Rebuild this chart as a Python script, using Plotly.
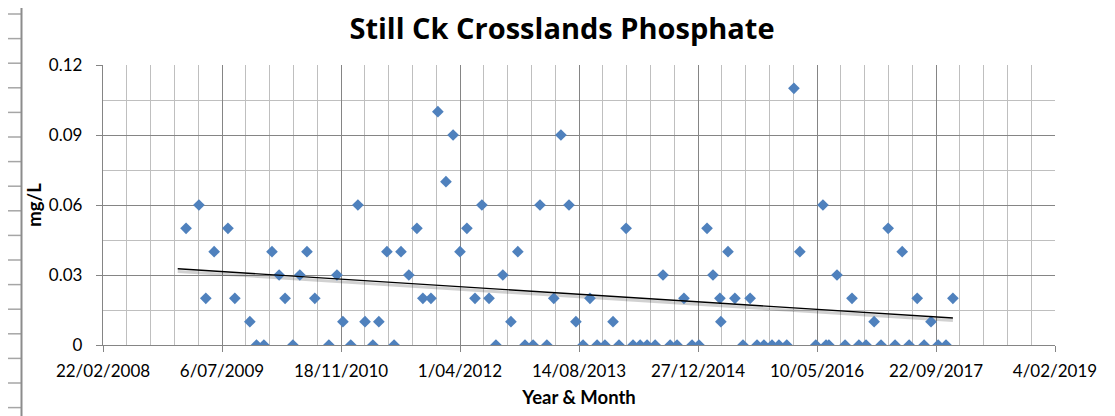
import numpy as np
import pandas as pd
import plotly.graph_objects as go

# ---------------- data ----------------
dates = [
    "2009-02-05", "2009-03-31", "2009-04-29", "2009-06-03", "2009-07-31", "2009-08-29", "2009-10-31", "2009-11-28", "2009-12-29",
    "2010-02-01", "2010-03-03", "2010-03-28", "2010-04-30", "2010-05-29", "2010-06-28", "2010-07-31", "2010-09-28", "2010-11-01", "2010-11-26", "2010-12-29",
    "2011-01-28", "2011-02-27", "2011-04-01", "2011-04-26", "2011-05-30", "2011-06-29", "2011-07-28", "2011-08-30", "2011-10-03", "2011-10-28", "2011-12-01", "2011-12-30",
    "2012-02-02", "2012-03-03", "2012-04-01", "2012-04-30", "2012-06-03", "2012-07-02", "2012-08-01", "2012-08-30", "2012-09-28", "2012-11-01", "2012-11-30", "2012-12-30",
    "2013-02-02", "2013-03-03", "2013-04-01", "2013-04-30", "2013-05-30", "2013-07-03", "2013-08-01", "2013-08-31", "2013-09-29", "2013-10-29", "2013-12-01",
    "2014-01-04", "2014-01-29", "2014-02-28", "2014-03-29", "2014-04-28", "2014-05-27", "2014-06-30", "2014-08-02", "2014-09-01", "2014-09-30", "2014-10-29", "2014-12-02", "2014-12-31",
    "2015-02-03", "2015-02-28", "2015-03-29", "2015-04-02", "2015-05-02", "2015-05-31", "2015-07-04", "2015-08-03", "2015-09-01", "2015-09-30", "2015-11-03", "2015-12-02",
    "2016-01-04", "2016-02-03", "2016-02-28", "2016-05-05", "2016-06-04", "2016-06-17", "2016-06-29", "2016-08-02", "2016-09-05", "2016-10-04", "2016-11-02", "2016-12-02",
    "2017-01-05", "2017-02-03", "2017-03-05", "2017-04-03", "2017-05-03", "2017-06-01", "2017-07-05", "2017-08-03", "2017-09-01", "2017-10-01", "2017-11-03", "2017-12-02",
]
phosphate = [
    0.05, 0.06, 0.02, 0.04, 0.05, 0.02, 0.01, 0, 0,
    0.04, 0.03, 0.02, 0, 0.03, 0.04, 0.02, 0, 0.03, 0.01, 0,
    0.06, 0.01, 0, 0.01, 0.04, 0, 0.04, 0.03, 0.05, 0.02, 0.02, 0.10,
    0.07, 0.09, 0.04, 0.05, 0.02, 0.06, 0.02, 0, 0.03, 0.01, 0.04, 0,
    0, 0.06, 0, 0.02, 0.09, 0.06, 0.01, 0, 0.02, 0, 0,
    0.01, 0, 0.05, 0, 0, 0, 0, 0.03, 0, 0, 0.02, 0, 0,
    0.05, 0.03, 0.02, 0.01, 0.04, 0.02, 0, 0.02, 0, 0, 0, 0,
    0, 0.11, 0.04, 0, 0.06, 0, 0, 0.03, 0, 0.02, 0, 0,
    0.01, 0, 0.05, 0, 0.04, 0, 0.02, 0, 0.01, 0, 0, 0.02,
]
x_range = ["2008-02-22", "2019-02-04"]
y_ticks = [0, 0.03, 0.06, 0.09, 0.12]
title = "Still Ck Crosslands Phosphate"
x_title = "Year & Month"
y_title = "mg/L"

# ---------------- linear trendline (least squares) ----------------
d = pd.to_datetime(dates)
t = np.array((d - d[0]).days, dtype=float)
slope, intercept = np.polyfit(t, phosphate, 1)
backward_days = 35
t_line = np.array([-backward_days, t[-1]])
trend_x = d[0] + pd.to_timedelta(t_line, unit="D")
trend_y = slope * t_line + intercept

DAY = 86400000
FONT = "Lato"
OFF = 8                      # page body margin
W, H = 1115 - OFF, 416 - OFF
PW, PH = 952, 280
L, T = 103 - OFF, 65 - OFF
R, B = W - L - PW, H - T - PH

def px(xp):   # page pixel -> paper x
    return (xp - OFF - L) / PW

def py(yp):   # page pixel -> paper y
    return (T + PH - (yp - OFF)) / PH

fig = go.Figure()
fig.add_trace(go.Scatter(
    x=trend_x, y=trend_y - 0.0011, mode="lines",
    line=dict(color="rgba(0,0,0,0.18)", width=3), hoverinfo="skip", showlegend=False,
))
fig.add_trace(go.Scatter(
    x=dates, y=phosphate, mode="markers",
    marker=dict(symbol="diamond", size=9, color="#4F81BD", line=dict(width=0)),
    showlegend=False,
))
fig.add_trace(go.Scatter(
    x=trend_x, y=trend_y, mode="lines",
    line=dict(color="black", width=1.4), hoverinfo="skip", showlegend=False,
))

shapes = []
# spreadsheet cell lines around the chart object
for k in range(17):
    yp = 14 + 24.6 * k
    shapes.append(dict(type="line", xref="paper", yref="paper", x0=px(0), x1=px(21), y0=py(yp), y1=py(yp),
                       line=dict(color="#A6A6A6", width=1.5), layer="below"))
for k in range(11):
    xp = 50 + 96.4 * k
    shapes.append(dict(type="line", xref="paper", yref="paper", x0=px(xp), x1=px(xp), y0=py(0), y1=py(3),
                       line=dict(color="#A6A6A6", width=1.5), layer="below"))
# chart border
shapes.append(dict(type="rect", xref="paper", yref="paper", x0=px(21.5), x1=px(1110), y0=py(430), y1=py(3),
                   line=dict(color="#8C8C8C", width=2), layer="below"))

fig.update_layout(
    width=W, height=H,
    margin=dict(l=L, r=R, t=T, b=B, autoexpand=False),
    paper_bgcolor="white", plot_bgcolor="white",
    font=dict(family=FONT, color="black"),
    title=dict(text="<b>" + title + "</b>", font=dict(family="Open Sans", size=29, color="black"),
               x=(562 - OFF) / W, xref="container", xanchor="center",
               y=1 - (29 - OFF) / H, yref="container", yanchor="middle"),
    shapes=shapes,
    showlegend=False,
)
fig.update_xaxes(
    type="date", range=x_range, tick0=x_range[0], dtick=500 * DAY, tickformat="%-d/%m/%Y",
    showgrid=True, gridcolor="#858585", gridwidth=1.3,
    minor=dict(tick0=x_range[0], dtick=100 * DAY, showgrid=True, gridcolor="#BFBFBF", gridwidth=1.3),
    ticks="outside", ticklen=6, tickcolor="#858585", tickwidth=1.3,
    showline=True, linecolor="#858585", linewidth=1.3, zeroline=False,
    tickfont=dict(family=FONT, size=17, color="black"), ticklabelstandoff=4,
    title=dict(text="<b>" + x_title + "</b>", font=dict(family=FONT, size=18.5, color="black"), standoff=11),
    automargin=False,
)
fig.update_yaxes(
    range=[0, 0.12], tickvals=y_ticks, ticktext=[f"{v:g}" for v in y_ticks],
    showgrid=True, gridcolor="#858585", gridwidth=1.3,
    minor=dict(tick0=0, dtick=0.015, showgrid=True, gridcolor="#BFBFBF", gridwidth=1.3),
    ticks="outside", ticklen=6, tickcolor="#858585", tickwidth=1.3,
    showline=True, linecolor="#858585", linewidth=1.3, zeroline=False,
    tickfont=dict(family=FONT, size=17, color="black"), ticklabelstandoff=10,
    title=dict(text="<b>" + y_title + "</b>", font=dict(family=FONT, size=18.5, color="black"), standoff=2),
    automargin=False,
)

fig.write_html("out.html")
